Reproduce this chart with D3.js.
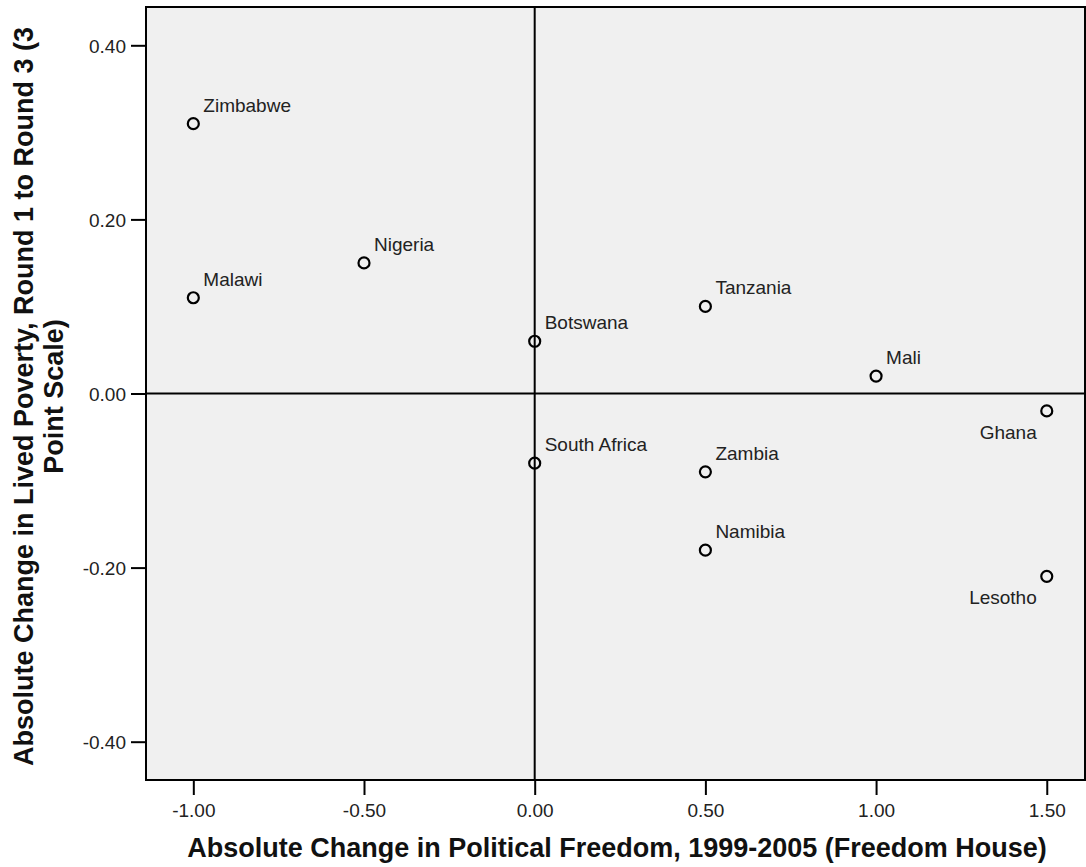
<!DOCTYPE html>
<html>
<head>
<meta charset="utf-8">
<script src="https://cdn.jsdelivr.net/npm/d3@7"></script>
<style>
  html, body { margin: 0; padding: 0; background: #ffffff; }
  svg { display: block; font-family: Arial, "Liberation Sans", sans-serif; }
</style>
</head>
<body>
<svg id="chart" width="1086" height="867"></svg>
<script>
// Country names and their values
const countries = ["Zimbabwe", "Malawi", "Nigeria", "Botswana", "South Africa",
                   "Tanzania", "Zambia", "Namibia", "Mali", "Ghana", "Lesotho"];
const freedomChange = [-1.0, -1.0, -0.5, 0.0, 0.0, 0.5, 0.5, 0.5, 1.0, 1.5, 1.5];
const povertyChange = [0.31, 0.11, 0.15, 0.06, -0.08, 0.10, -0.09, -0.18, 0.02, -0.02, -0.21];
// Labels drawn below-left of their marker instead of above-right
const labelBelowLeft = ["Ghana", "Lesotho"];

const xTicks = [-1.0, -0.5, 0.0, 0.5, 1.0, 1.5];
const yTicks = [-0.40, -0.20, 0.00, 0.20, 0.40];

const xTitle = "Absolute Change in Political Freedom, 1999-2005 (Freedom House)";
const yTitleLines = ["Absolute Change in Lived Poverty, Round 1 to Round 3 (3", "Point Scale)"];

const svg = d3.select("#chart");
const plot = { left: 146, right: 1085, top: 7, bottom: 780 };

const x = d3.scaleLinear().domain([-1.1386, 1.612]).range([plot.left, plot.right]);
const y = d3.scaleLinear().domain([-0.444, 0.444]).range([plot.bottom, plot.top]);

// Plot background
svg.append("rect")
  .attr("x", plot.left).attr("y", plot.top)
  .attr("width", plot.right - plot.left).attr("height", plot.bottom - plot.top)
  .attr("fill", "#f0f0f0");

// Axes (two decimals, plain hyphen for negatives)
const fmt = v => d3.format(".2f")(v).replace("\u2212", "-");
const xAxis = svg.append("g")
  .attr("transform", `translate(0,${plot.bottom})`)
  .call(d3.axisBottom(x).tickValues(xTicks).tickFormat(fmt).tickSize(15).tickSizeOuter(0));
const yAxis = svg.append("g")
  .attr("transform", `translate(${plot.left},0)`)
  .call(d3.axisLeft(y).tickValues(yTicks).tickFormat(fmt).tickSize(15).tickSizeOuter(0));

[xAxis, yAxis].forEach(g => {
  g.select(".domain").remove();
  g.selectAll(".tick line").attr("stroke", "#000").attr("stroke-width", 2);
  g.selectAll(".tick text").attr("fill", "#222").style("font-size", "19px");
});
xAxis.selectAll(".tick text").attr("dy", "0").attr("y", 37);
yAxis.selectAll(".tick text").attr("x", -20).attr("dy", "0.36em");

// Reference lines through zero
svg.append("line")
  .attr("x1", x(0)).attr("x2", x(0)).attr("y1", plot.top).attr("y2", plot.bottom)
  .attr("stroke", "#000").attr("stroke-width", 2);
svg.append("line")
  .attr("x1", plot.left).attr("x2", plot.right).attr("y1", y(0)).attr("y2", y(0))
  .attr("stroke", "#000").attr("stroke-width", 2);

// Plot frame
svg.append("rect")
  .attr("x", plot.left).attr("y", plot.top)
  .attr("width", plot.right - plot.left).attr("height", plot.bottom - plot.top)
  .attr("fill", "none").attr("stroke", "#000").attr("stroke-width", 2);

// Points
const data = countries.map((c, i) => ({ name: c, fx: freedomChange[i], py: povertyChange[i] }));

svg.append("g").selectAll("circle")
  .data(data).join("circle")
  .attr("cx", d => x(d.fx)).attr("cy", d => y(d.py))
  .attr("r", 5.5)
  .attr("fill", "none").attr("stroke", "#000").attr("stroke-width", 2.2);

svg.append("g").selectAll("text")
  .data(data).join("text")
  .attr("x", d => labelBelowLeft.includes(d.name) ? x(d.fx) - 10 : x(d.fx) + 10)
  .attr("y", d => labelBelowLeft.includes(d.name) ? y(d.py) + 28 : y(d.py) - 12)
  .attr("text-anchor", d => labelBelowLeft.includes(d.name) ? "end" : "start")
  .attr("fill", "#222")
  .style("font-size", "19px")
  .text(d => d.name);

// Axis titles
svg.append("text")
  .attr("x", 617).attr("y", 857)
  .attr("text-anchor", "middle")
  .style("font-size", "27px").style("font-weight", "bold")
  .attr("fill", "#111")
  .text(xTitle);

const yt = svg.append("text")
  .attr("transform", `translate(33,396.5) rotate(-90)`)
  .attr("text-anchor", "middle")
  .style("font-size", "27px").style("font-weight", "bold")
  .attr("fill", "#111");
yTitleLines.forEach((t, i) => {
  yt.append("tspan").attr("x", 0).attr("y", i * 30).text(t);
});
</script>
</body>
</html>
